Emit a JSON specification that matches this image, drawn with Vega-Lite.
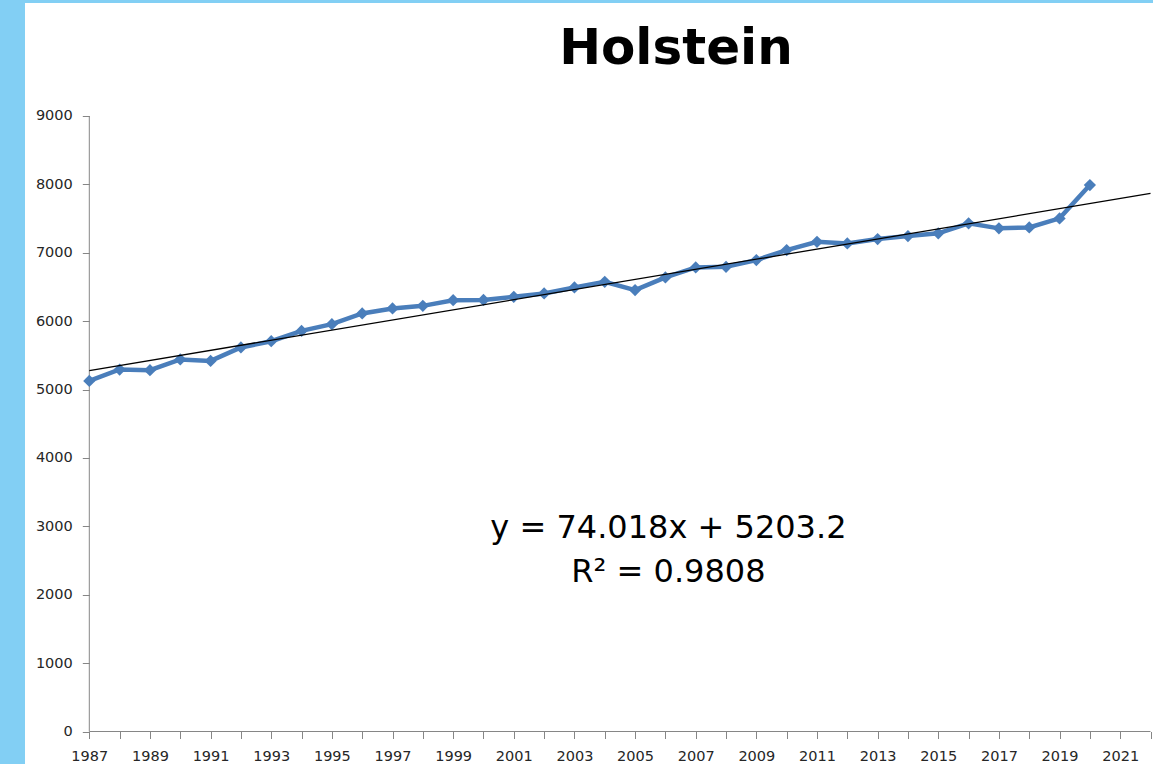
{
  "$schema": "https://vega.github.io/schema/vega-lite/v6.json",
  "width": 1128,
  "height": 761,
  "autosize": {"type": "none"},
  "padding": {"left": 25, "top": 3, "right": 0, "bottom": 0},
  "background": "#82cff4",
  "view": {"fill": "white", "stroke": null},
  "title": {
    "text": "Holstein",
    "font": "DejaVu Sans",
    "fontSize": 50,
    "fontWeight": "bold",
    "color": "#000000",
    "anchor": "middle",
    "frame": "group",
    "dx": 87,
    "offset": -110.7,
    "baseline": "alphabetic"
  },
  "datasets": {
    "milk": [
      {"year": 1987, "milk": 5126},
      {"year": 1988, "milk": 5293},
      {"year": 1989, "milk": 5283},
      {"year": 1990, "milk": 5440},
      {"year": 1991, "milk": 5419},
      {"year": 1992, "milk": 5615},
      {"year": 1993, "milk": 5707},
      {"year": 1994, "milk": 5858},
      {"year": 1995, "milk": 5956},
      {"year": 1996, "milk": 6113},
      {"year": 1997, "milk": 6186},
      {"year": 1998, "milk": 6224},
      {"year": 1999, "milk": 6307},
      {"year": 2000, "milk": 6310},
      {"year": 2001, "milk": 6356},
      {"year": 2002, "milk": 6405},
      {"year": 2003, "milk": 6493},
      {"year": 2004, "milk": 6576},
      {"year": 2005, "milk": 6454},
      {"year": 2006, "milk": 6640},
      {"year": 2007, "milk": 6786},
      {"year": 2008, "milk": 6795},
      {"year": 2009, "milk": 6893},
      {"year": 2010, "milk": 7039},
      {"year": 2011, "milk": 7161},
      {"year": 2012, "milk": 7137},
      {"year": 2013, "milk": 7200},
      {"year": 2014, "milk": 7244},
      {"year": 2015, "milk": 7284},
      {"year": 2016, "milk": 7430},
      {"year": 2017, "milk": 7357},
      {"year": 2018, "milk": 7371},
      {"year": 2019, "milk": 7503},
      {"year": 2020, "milk": 7991}
    ],
    "trend": [
      {"year": 1987, "milk": 5277.218},
      {"year": 2022, "milk": 7867.848}
    ],
    "yaxisline": [
      {"year": 1987, "milk": 0},
      {"year": 1987, "milk": 9000}
    ],
    "xaxisline": [
      {"year": 1987, "milk": 0},
      {"year": 2022, "milk": 0}
    ],
    "equation": [
      {"line": "y = 74.018x + 5203.2", "year": 2006.1, "milk": 2834},
      {"line": "R² = 0.9808", "year": 2006.1, "milk": 2186}
    ]
  },
  "encoding": {
    "x": {
      "field": "year",
      "type": "quantitative",
      "scale": {"domain": [1984.879, 2022.082], "nice": false, "zero": false},
      "axis": {
        "values": [1987, 1988, 1989, 1990, 1991, 1992, 1993, 1994, 1995, 1996, 1997, 1998, 1999, 2000, 2001, 2002, 2003, 2004, 2005, 2006, 2007, 2008, 2009, 2010, 2011, 2012, 2013, 2014, 2015, 2016, 2017, 2018, 2019, 2020, 2021, 2022],
        "format": "d",
        "labelExpr": "datum.value % 2 == 1 ? datum.label : ''",
        "domain": false,
        "grid": false,
        "ticks": true,
        "tickSize": 7,
        "tickColor": "#868686",
        "labelFont": "DejaVu Sans",
        "labelFontSize": 14.5,
        "labelColor": "#262626",
        "labelPadding": 11,
        "labelOverlap": false,
        "labelFlush": false,
        "labelBound": false,
        "offset": -32.5,
        "zindex": 1,
        "title": null
      }
    },
    "y": {
      "field": "milk",
      "type": "quantitative",
      "scale": {"domain": [-475.2, 10652.3], "nice": false, "zero": false},
      "axis": {
        "values": [0, 1000, 2000, 3000, 4000, 5000, 6000, 7000, 8000, 9000],
        "format": "d",
        "domain": false,
        "grid": false,
        "ticks": true,
        "tickSize": 7,
        "tickColor": "#868686",
        "labelFont": "DejaVu Sans",
        "labelFontSize": 14.5,
        "labelColor": "#262626",
        "labelPadding": 10,
        "labelOverlap": false,
        "labelFlush": false,
        "labelBound": false,
        "offset": -64.3,
        "zindex": 1,
        "title": null
      }
    }
  },
  "layer": [
    {
      "data": {"name": "yaxisline"},
      "mark": {"type": "line", "color": "#868686", "strokeWidth": 1}
    },
    {
      "data": {"name": "xaxisline"},
      "mark": {"type": "line", "color": "#868686", "strokeWidth": 1}
    },
    {
      "data": {"name": "milk"},
      "mark": {
        "type": "line",
        "color": "#4a7ebb",
        "strokeWidth": 4.5,
        "point": {"shape": "diamond", "size": 150, "filled": true, "color": "#4a7ebb"}
      }
    },
    {
      "data": {"name": "trend"},
      "mark": {"type": "line", "color": "#000000", "strokeWidth": 1.3}
    },
    {
      "data": {"name": "equation"},
      "mark": {"type": "text", "font": "DejaVu Sans", "fontSize": 32, "color": "#000000", "align": "center", "baseline": "alphabetic"},
      "encoding": {
        "text": {"field": "line", "type": "nominal"}
      }
    }
  ]
}
